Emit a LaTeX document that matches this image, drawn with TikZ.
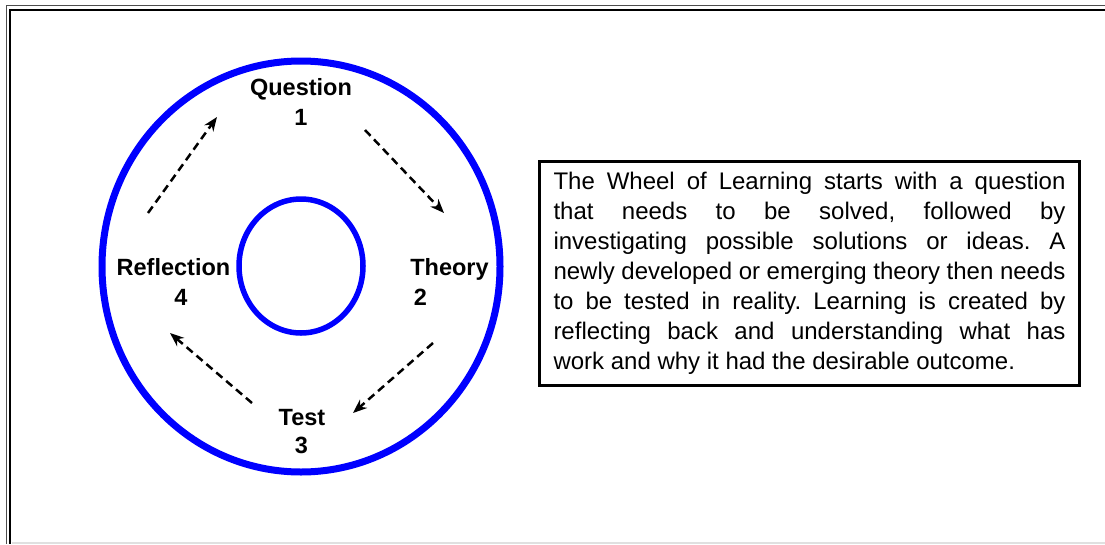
\documentclass[tikz,border=0pt]{standalone}
\usepackage{fontspec}
\setmainfont{Liberation Sans}
\usetikzlibrary{arrows.meta}
\tikzset{
  stagelabel/.style={anchor=base, inner sep=0pt, font=\bfseries\fontsize{23.5pt}{30pt}\selectfont},
  stagenum/.style={anchor=base, inner sep=0pt, font=\bfseries\fontsize{23.5pt}{30pt}\selectfont},
  cyclearrow/.style={line width=2.5pt, dash pattern=on 8pt off 5pt, -{Stealth[length=14pt,width=11pt]}},
  notebox/.style={draw, line width=3pt, text width=512pt, inner xsep=14pt, inner ysep=0pt,
    minimum height=224pt, align=justify, font=\fontsize{24pt}{30pt}\selectfont\frenchspacing}
}
\begin{document}
\begin{tikzpicture}[x=1pt,y=-1pt]
			%%%%% START %%%%%
			\useasboundingbox (0,0) rectangle (1105,544);
			
			\draw[line width=1pt, color=black!70] (1105,5) -- (6,5) -- (6,544);
			\draw[line width=2.4pt] (1105,10) -- (10,10) -- (10,544);
			\draw[line width=2pt, color=black!12] (12,543) -- (1105,543);
			
			\draw[line width=7pt, color=blue] (301,266.5) ellipse [x radius=199pt, y radius=205.5pt];
			\draw[line width=5.5pt, color=blue] (301,266) ellipse [x radius=62pt, y radius=67pt];
			
			\node[stagelabel] (question) at (301,95) {Question};
			\node[stagenum] (n1) at (301,125) {1};
			\node[stagelabel] (theory) at (449.5,275) {Theory};
			\node[stagenum] (n2) at (420.5,305) {2};
			\node[stagelabel] (test) at (302,425) {Test};
			\node[stagenum] (n3) at (301.5,453) {3};
			\node[stagelabel] (reflection) at (173.5,275) {Reflection};
			\node[stagenum] (n4) at (181,305) {4};
			
			\coordinate (r-out) at (148,213);
			\coordinate (q-in) at (217,117);
			\coordinate (q-out) at (365,130);
			\coordinate (th-in) at (444,213);
			\coordinate (th-out) at (433,343);
			\coordinate (te-in) at (353,413);
			\coordinate (te-out) at (252,403);
			\coordinate (r-in) at (170,333);
			
			\draw[cyclearrow] (r-out) -- (q-in);
			\draw[cyclearrow] (q-out) -- (th-in);
			\draw[cyclearrow] (th-out) -- (te-in);
			\draw[cyclearrow] (te-out) -- (r-in);
			
			\node[notebox] (note) at (809.5,273.5) {The Wheel of Learning starts with a question\linebreak
				that needs to be solved, followed by\linebreak
				investigating possible solutions or ideas. A\linebreak
				newly developed or emerging theory then needs\linebreak
				to be tested in reality. Learning is created by\linebreak
				reflecting back and understanding what has\linebreak
				work and why it had the desirable outcome.};
			
			%%%%% END %%%%%
\end{tikzpicture}
\end{document}
